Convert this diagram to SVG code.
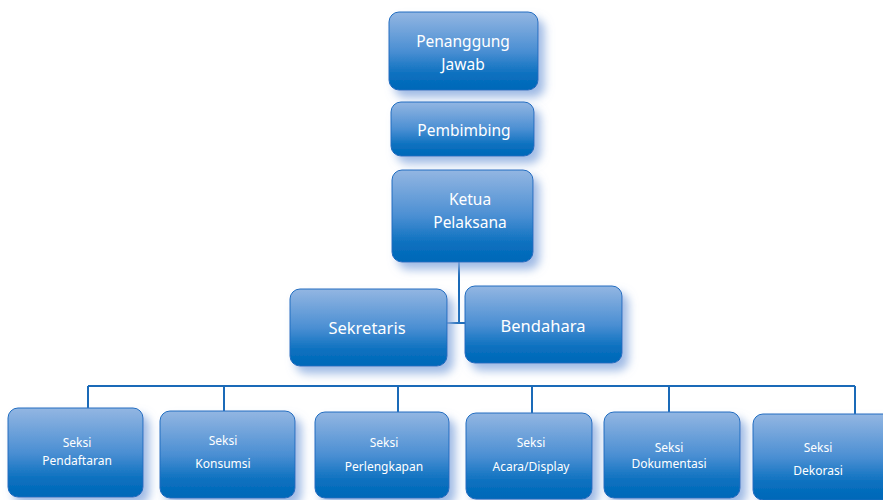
<svg xmlns="http://www.w3.org/2000/svg" width="883" height="500" viewBox="0 0 883 500">
<defs>
<linearGradient id="g" x1="0" y1="0" x2="0" y2="1">
<stop offset="0" stop-color="#93b6e2"/>
<stop offset="0.5" stop-color="#4b8fd3"/>
<stop offset="0.8" stop-color="#0a70bf"/>
<stop offset="1" stop-color="#0068b8"/>
</linearGradient>
<filter id="sh" x="-20%" y="-20%" width="150%" height="160%">
<feGaussianBlur in="SourceAlpha" stdDeviation="5"/>
<feOffset dx="6" dy="7" result="b"/>
<feFlood flood-color="#8eaee0" flood-opacity="0.85"/>
<feComposite in2="b" operator="in"/>
<feMerge><feMergeNode/><feMergeNode in="SourceGraphic"/></feMerge>
</filter>
</defs>
<style>
.box{fill:url(#g);stroke:#1e6cc0;stroke-width:1;filter:url(#sh)}
.t{fill:#fff;font-family:"Noto Sans","Open Sans",sans-serif;text-anchor:middle}
.big{font-size:15.5px}
.mid{font-size:16.5px}
.sm{font-size:12px}
.ln{stroke:#1a6ab8;stroke-width:2;fill:none}
</style>
<rect width="883" height="500" fill="#fff"/>
<g id="connectors">
<path class="ln" d="M459 262 V323 M447 323 H465"/>
<path class="ln" d="M88 386 H855 M88 386 V408 M224 386 V411 M398 386 V412 M532 386 V413 M669 386 V412 M855 386 V414"/>
</g>
<g id="penanggung">
<rect class="box" x="389" y="12" width="149" height="78" rx="10"/>
<text class="t big" x="463" y="47">Penanggung</text>
<text class="t big" x="463" y="70">Jawab</text>
</g>
<g id="pembimbing">
<rect class="box" x="391" y="102" width="143" height="54" rx="10"/>
<text class="t big" x="464" y="136">Pembimbing</text>
</g>
<g id="ketua">
<rect class="box" x="392" y="170" width="141" height="92" rx="10"/>
<text class="t big" x="470" y="205">Ketua</text>
<text class="t big" x="470" y="228">Pelaksana</text>
</g>
<g id="sekretaris">
<rect class="box" x="290" y="289" width="157" height="77" rx="10"/>
<text class="t mid" x="367" y="334">Sekretaris</text>
</g>
<g id="bendahara">
<rect class="box" x="465" y="286" width="157" height="77" rx="10"/>
<text class="t mid" x="543" y="332">Bendahara</text>
</g>
<g id="pendaftaran">
<rect class="box" x="8" y="408" width="135" height="89" rx="10"/>
<text class="t sm" x="77" y="447">Seksi</text>
<text class="t sm" x="77" y="465">Pendaftaran</text>
</g>
<g id="konsumsi">
<rect class="box" x="160" y="411" width="135" height="87" rx="10"/>
<text class="t sm" x="223" y="445">Seksi</text>
<text class="t sm" x="223" y="468">Konsumsi</text>
</g>
<g id="perlengkapan">
<rect class="box" x="315" y="412" width="134" height="86" rx="10"/>
<text class="t sm" x="384" y="447">Seksi</text>
<text class="t sm" x="384" y="471">Perlengkapan</text>
</g>
<g id="acara">
<rect class="box" x="466" y="413" width="126" height="86" rx="10"/>
<text class="t sm" x="531" y="447">Seksi</text>
<text class="t sm" x="531" y="471">Acara/Display</text>
</g>
<g id="dokumentasi">
<rect class="box" x="604" y="412" width="136" height="86" rx="10"/>
<text class="t sm" x="669" y="452">Seksi</text>
<text class="t sm" x="669" y="468">Dokumentasi</text>
</g>
<g id="dekorasi">
<rect class="box" x="753" y="414" width="140" height="86" rx="10"/>
<text class="t sm" x="818" y="452">Seksi</text>
<text class="t sm" x="818" y="475">Dekorasi</text>
</g>
</svg>
